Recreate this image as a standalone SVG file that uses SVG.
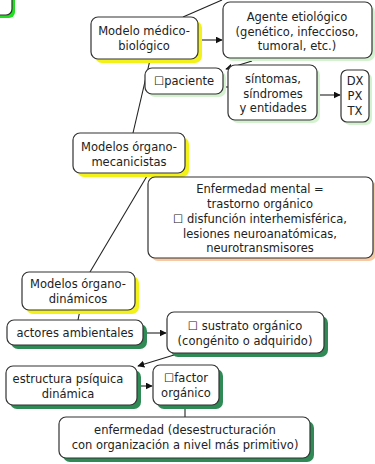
<svg xmlns="http://www.w3.org/2000/svg" width="375" height="464" viewBox="0 0 375 464">
<defs>
<marker id="ah" viewBox="0 0 10 10" refX="9" refY="5" markerWidth="7" markerHeight="7" orient="auto" markerUnits="userSpaceOnUse">
<path d="M0,0 L10,5 L0,10 z" fill="#111"/>
</marker>
<style>
.box{fill:#fff;stroke:#333;stroke-width:1.2}
.sy{fill:#f2f21a}
.sg{fill:#2f8a55}
.sl{fill:#d4f2d0}
.so{fill:#f6c9a2}
.t{font-family:"DejaVu Sans",Verdana,sans-serif;font-size:11.5px;fill:#222;text-anchor:middle}
.c{stroke:#222;stroke-width:1.1;fill:none}
.a{stroke:#222;stroke-width:1.1;fill:none;marker-end:url(#ah)}
</style>
</defs>
<rect width="375" height="464" fill="#fff"/>
<g id="connectors">
<line class="c" x1="183" y1="17" x2="222" y2="0"/>
<line class="a" x1="199" y1="40" x2="222" y2="40"/>
<line class="a" x1="252" y1="61" x2="226" y2="69"/>
<line class="c" x1="223" y1="87" x2="228" y2="87"/>
<line class="a" x1="318" y1="95" x2="340" y2="95"/>
<line class="c" x1="150" y1="60" x2="133" y2="133"/>
<line class="c" x1="147" y1="176" x2="90" y2="272"/>
<line class="c" x1="172" y1="173" x2="176" y2="178"/>
<line class="c" x1="80" y1="310" x2="78" y2="320"/>
<line class="a" x1="146" y1="333" x2="166" y2="333"/>
<line class="a" x1="174" y1="355" x2="138" y2="366"/>
<line class="a" x1="139" y1="386" x2="152" y2="386"/>
<line class="c" x1="185" y1="405" x2="185" y2="417"/>
</g>
<g id="n0">
<rect x="-23" y="-20" width="38" height="38" rx="6" fill="#22dd22"/>
<rect class="box" x="-26" y="-23" width="38" height="38" rx="6"/>
</g>
<g id="n-medico">
<rect class="sy" x="95" y="21" width="107" height="42" rx="7"/>
<rect class="box" x="91" y="17" width="107" height="42" rx="7"/>
<text class="t" x="144" y="35">Modelo médico-</text>
<text class="t" x="144" y="50">biológico</text>
</g>
<g id="n-agente">
<rect class="sl" x="226" y="5" width="149" height="56" rx="7"/>
<rect class="box" x="223" y="2" width="149" height="56" rx="7"/>
<text class="t" x="297" y="21">Agente etiológico</text>
<text class="t" x="297" y="36">(genético, infeccioso,</text>
<text class="t" x="297" y="50">tumoral, etc.)</text>
</g>
<g id="n-paciente">
<rect class="sl" x="148" y="71" width="78" height="26" rx="7"/>
<rect class="box" x="145" y="68" width="78" height="26" rx="7"/>
<text class="t" x="184" y="85">☐paciente</text>
</g>
<g id="n-sintomas">
<rect class="sl" x="231" y="68" width="89" height="55" rx="7"/>
<rect class="box" x="228" y="65" width="89" height="55" rx="7"/>
<text class="t" x="273" y="83">síntomas,</text>
<text class="t" x="273" y="98">síndromes</text>
<text class="t" x="273" y="112">y entidades</text>
</g>
<g id="n-dx">
<rect class="sl" x="344" y="73" width="28" height="52" rx="6"/>
<rect class="box" x="341" y="70" width="28" height="52" rx="6"/>
<text class="t" x="355" y="85">DX</text>
<text class="t" x="355" y="100">PX</text>
<text class="t" x="355" y="115">TX</text>
</g>
<g id="n-mecanicistas">
<rect class="sy" x="77" y="137" width="112" height="40" rx="7"/>
<rect class="box" x="73" y="133" width="112" height="40" rx="7"/>
<text class="t" x="129" y="151">Modelos órgano-</text>
<text class="t" x="129" y="166">mecanicistas</text>
</g>
<g id="n-enfermedad-mental">
<rect class="so" x="151" y="180" width="225" height="81" rx="7"/>
<rect class="box" x="148" y="177" width="225" height="81" rx="7"/>
<text class="t" x="260" y="193">Enfermedad mental =</text>
<text class="t" x="260" y="208">trastorno orgánico</text>
<text class="t" x="260" y="223">☐ disfunción interhemisférica,</text>
<text class="t" x="260" y="238">lesiones neuroanatómicas,</text>
<text class="t" x="260" y="252">neurotransmisores</text>
</g>
<g id="n-dinamicos">
<rect class="sy" x="26" y="276" width="113" height="38" rx="7"/>
<rect class="box" x="22" y="272" width="113" height="38" rx="7"/>
<text class="t" x="78" y="288">Modelos órgano-</text>
<text class="t" x="78" y="303">dinámicos</text>
</g>
<g id="n-actores">
<rect class="sg" x="11" y="324" width="136" height="25" rx="7"/>
<rect class="box" x="7" y="320" width="136" height="25" rx="7"/>
<text class="t" x="75" y="337">actores ambientales</text>
</g>
<g id="n-sustrato">
<rect class="sg" x="171" y="316" width="157" height="41" rx="7"/>
<rect class="box" x="167" y="312" width="157" height="41" rx="7"/>
<text class="t" x="245" y="330">☐ sustrato orgánico</text>
<text class="t" x="245" y="345">(congénito o adquirido)</text>
</g>
<g id="n-estructura">
<rect class="sg" x="10" y="370" width="131" height="39" rx="7"/>
<rect class="box" x="6" y="366" width="131" height="39" rx="7"/>
<text class="t" x="68" y="383">estructura psíquica</text>
<text class="t" x="68" y="398">dinámica</text>
</g>
<g id="n-factor">
<rect class="sg" x="157" y="369" width="66" height="40" rx="7"/>
<rect class="box" x="153" y="365" width="66" height="40" rx="7"/>
<text class="t" x="186" y="382">☐factor</text>
<text class="t" x="186" y="397">orgánico</text>
</g>
<g id="n-enfermedad">
<rect class="sg" x="63" y="421" width="251" height="41" rx="7"/>
<rect class="box" x="59" y="417" width="251" height="41" rx="7"/>
<text class="t" x="185" y="434">enfermedad (desestructuración</text>
<text class="t" x="185" y="449">con organización a nivel más primitivo)</text>
</g>
</svg>
